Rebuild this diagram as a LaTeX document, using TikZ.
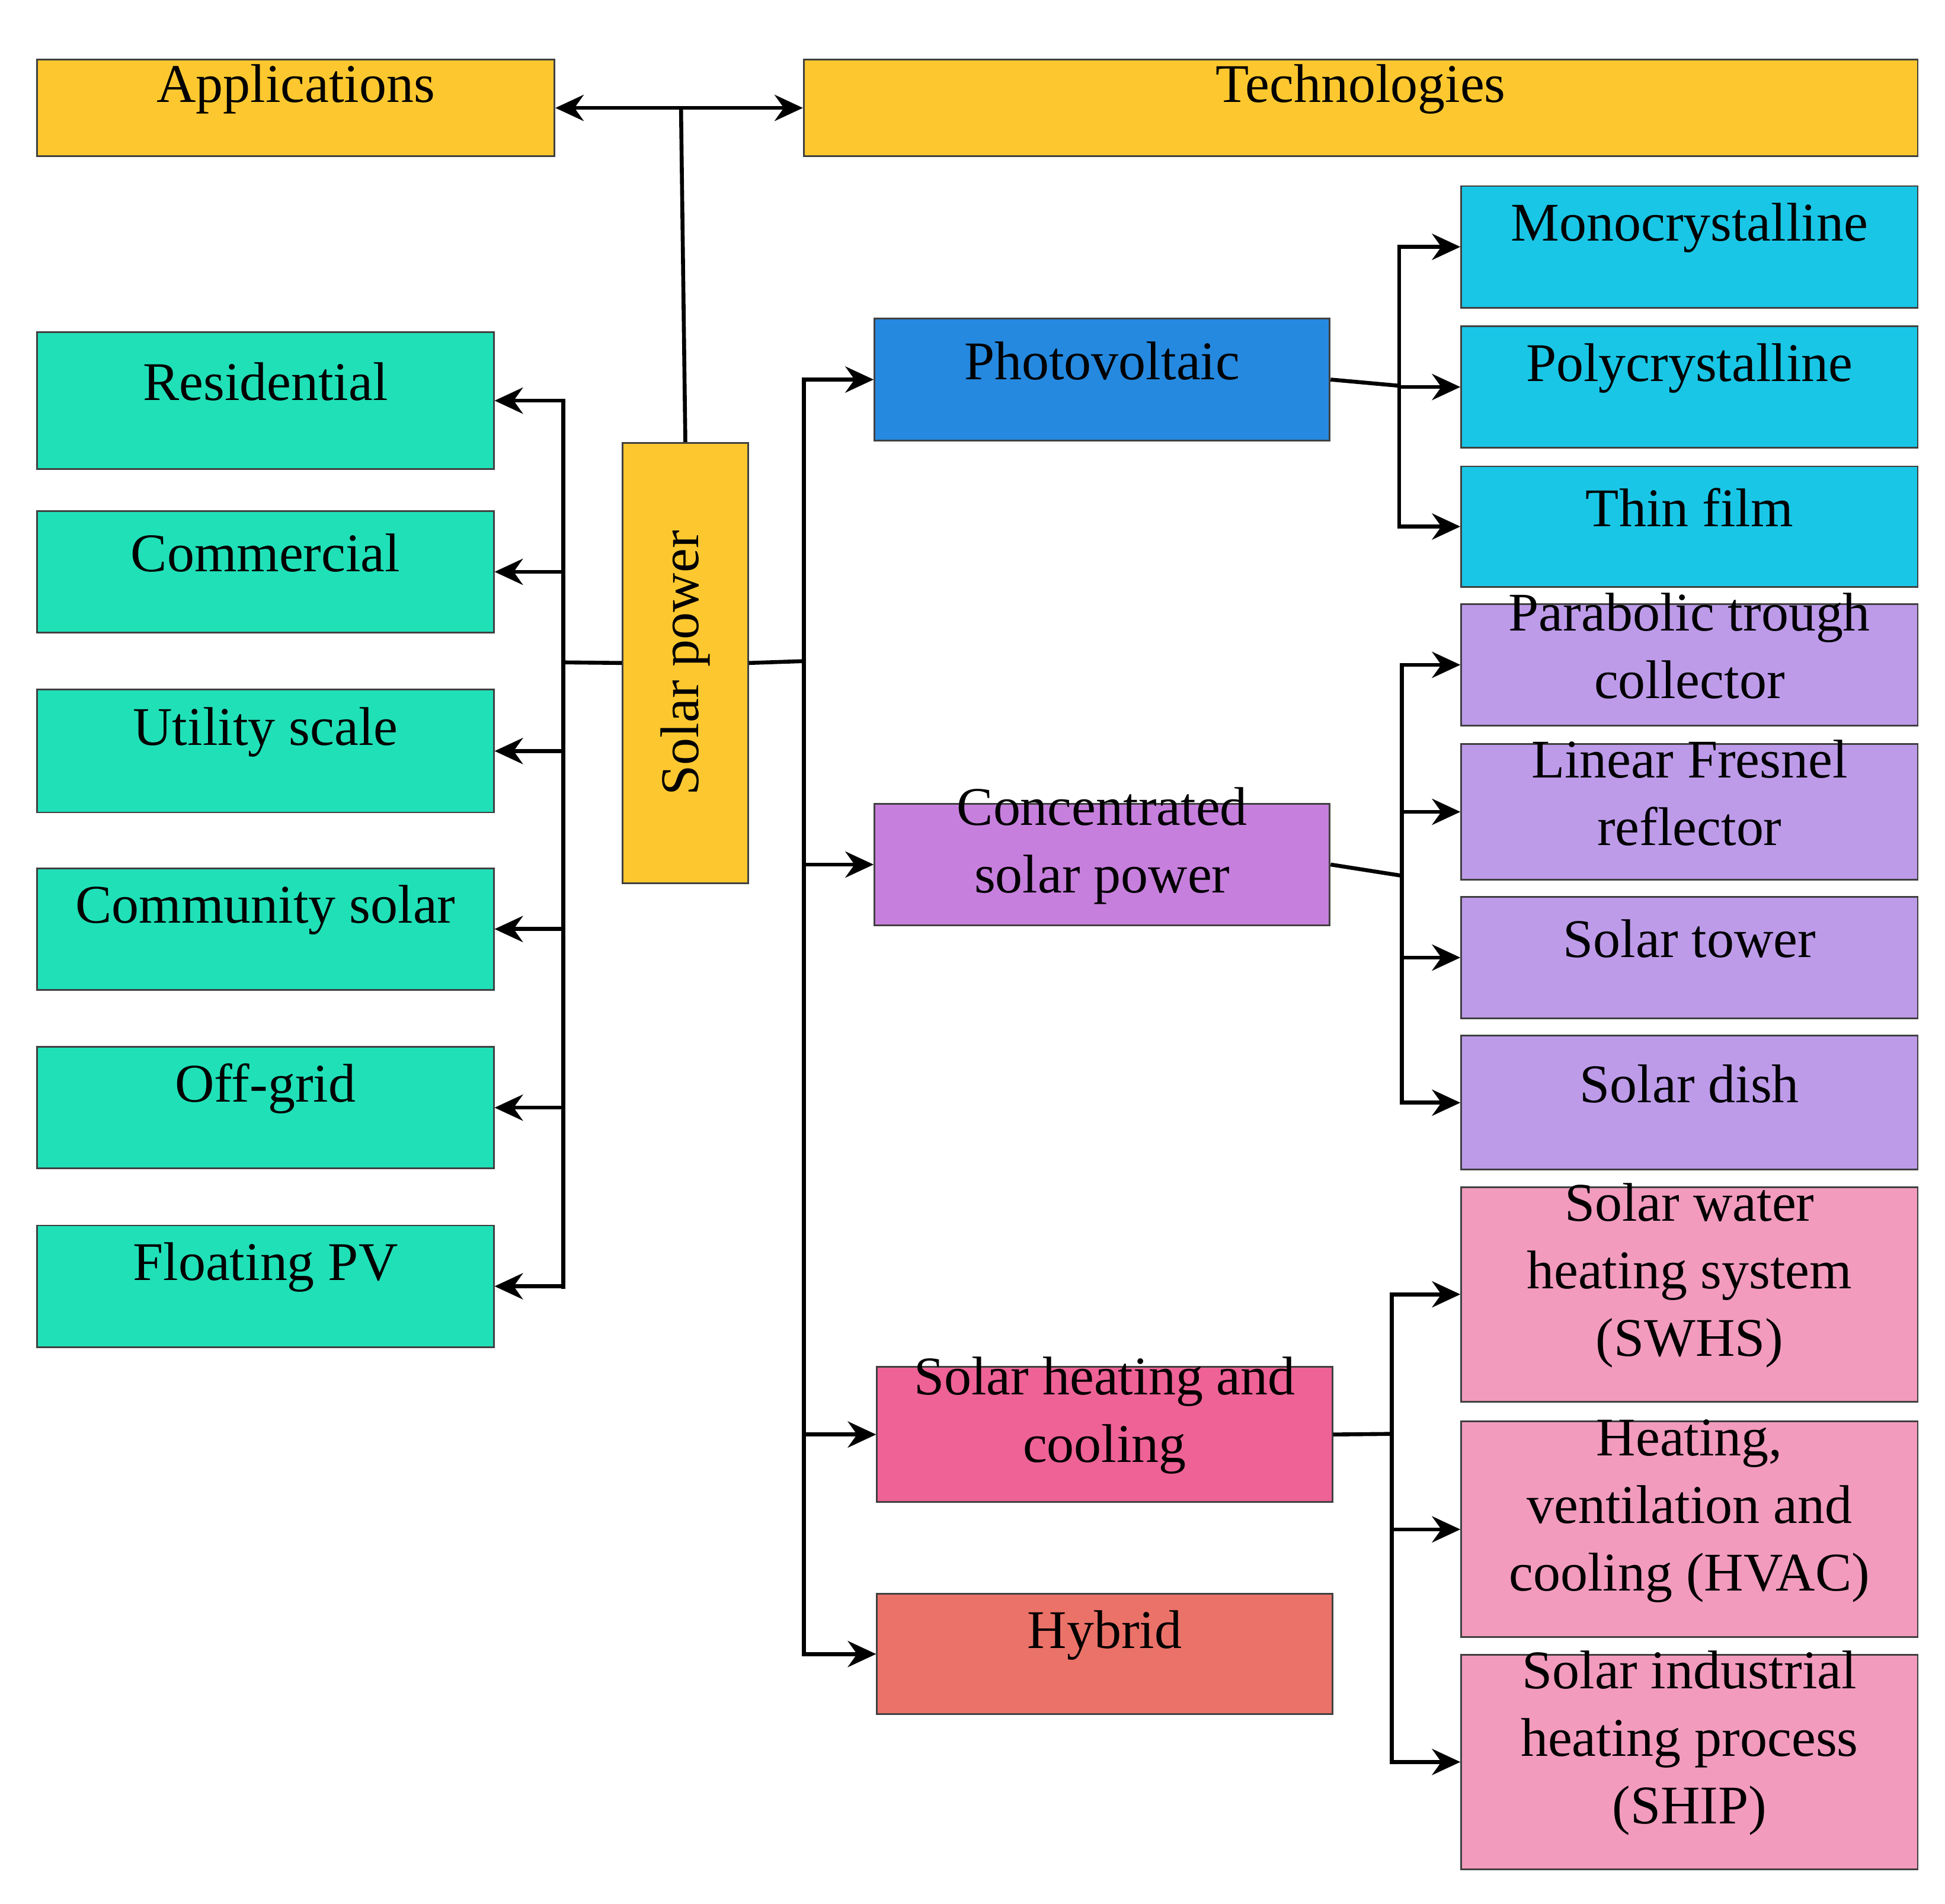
\documentclass[tikz,border=0pt]{standalone}
\usepackage{fontspec}
\setmainfont{Liberation Serif}
\usetikzlibrary{fit,arrows.meta}
\definecolor{gold}{HTML}{FDC82F}
\definecolor{grn}{HTML}{20E0B8}
\definecolor{pvb}{HTML}{2589E0}
\definecolor{cspc}{HTML}{C77FDD}
\definecolor{shcc}{HTML}{EE6295}
\definecolor{hyb}{HTML}{EB7268}
\definecolor{cyn}{HTML}{19C6E6}
\definecolor{prp}{HTML}{BD9BE9}
\definecolor{pnk}{HTML}{F29BBD}
\begin{document}
\begin{tikzpicture}[x=0.02cm,y=-0.02cm,
  box/.style={draw=black!75,line width=0.8pt,inner sep=0pt,align=center,
     font=\fontsize{25}{31}\selectfont},
  ln/.style={line width=1.8pt,black},
  arr/.style={ln,-{Stealth[length=13pt,width=12pt]}}]
\useasboundingbox (0,0) rectangle (1568,1535);
\node[box,fill=gold,fit={(30,48)(447,126)}] (app) {Applications};
\node[box,fill=gold,fit={(648,48)(1546,126)}] (tech) {Technologies};
\node[box,fill=gold,fit={(502,357)(603,712)}] (sp) {};
\node[rotate=90,font=\fontsize{25}{31}\selectfont] at (sp) {Solar power};
\node[box,fill=grn,fit={(30,268)(398,378)}] (res) {Residential};
\node[box,fill=grn,fit={(30,412)(398,510)}] (com) {Commercial};
\node[box,fill=grn,fit={(30,556)(398,655)}] (uti) {Utility scale};
\node[box,fill=grn,fit={(30,700)(398,798)}] (cso) {Community solar};
\node[box,fill=grn,fit={(30,844)(398,942)}] (off) {Off-grid};
\node[box,fill=grn,fit={(30,988)(398,1086)}] (flo) {Floating PV};
\node[box,fill=pvb,fit={(705,257)(1072,355)}] (pv) {Photovoltaic};
\node[box,fill=cspc,fit={(705,648)(1072,746)}] (csp) {Concentrated\\solar power};
\node[box,fill=shcc,fit={(707,1102)(1074,1211)}] (shc) {Solar heating and\\cooling};
\node[box,fill=hyb,fit={(707,1285)(1074,1382)}] (hy) {Hybrid};
\node[box,fill=cyn,fit={(1178,150)(1546,248)}] (mono) {Monocrystalline};
\node[box,fill=cyn,fit={(1178,263)(1546,361)}] (poly) {Polycrystalline};
\node[box,fill=cyn,fit={(1178,376)(1546,473)}] (thin) {Thin film};
\node[box,fill=prp,fit={(1178,487)(1546,585)}] (ptc) {Parabolic trough\\collector};
\node[box,fill=prp,fit={(1178,600)(1546,709)}] (lfr) {Linear Fresnel\\reflector};
\node[box,fill=prp,fit={(1178,723)(1546,821)}] (st) {Solar tower};
\node[box,fill=prp,fit={(1178,835)(1546,943)}] (sd) {Solar dish};
\node[box,fill=pnk,fit={(1178,957)(1546,1130)}] (swhs) {Solar water\\heating system\\(SWHS)};
\node[box,fill=pnk,fit={(1178,1146)(1546,1320)}] (hvac) {Heating,\\ventilation and\\cooling (HVAC)};
\node[box,fill=pnk,fit={(1178,1334)(1546,1507)}] (ship) {Solar industrial\\heating process\\(SHIP)};
% top
\coordinate (jt) at (549,87);
\draw[ln] (sp.north) -- (jt);
\draw[arr] (jt) -- (app.east);
\draw[arr] (jt) -- (tech.west);
% left
\coordinate (jl) at (454,534);
\draw[ln] (sp.west) -- (jl);
\coordinate (jlt) at (454,323);\coordinate (jlb) at (454,1039);
\draw[ln] (jlt) -- (jlb);
\foreach \n in {res,com,uti,cso,off,flo} \draw[arr] (jl) |- (\n.east);
% right
\coordinate (jr) at (648,533);
\draw[ln] (sp.east) -- (jr);
\foreach \n in {pv,csp,shc,hy} \draw[arr] (jr) |- (\n.west);
\coordinate (j1) at (1128,311);
\draw[ln] (pv.east) -- (j1);
\foreach \n in {mono,poly,thin} \draw[arr] (j1) |- (\n.west);
\coordinate (j2) at (1130,706);
\draw[ln] (csp.east) -- (j2);
\foreach \n in {ptc,lfr,st,sd} \draw[arr] (j2) |- (\n.west);
\coordinate (j3) at (1122,1156);
\draw[ln] (shc.east) -- (j3);
\foreach \n in {swhs,hvac,ship} \draw[arr] (j3) |- (\n.west);
\end{tikzpicture}
\end{document}
